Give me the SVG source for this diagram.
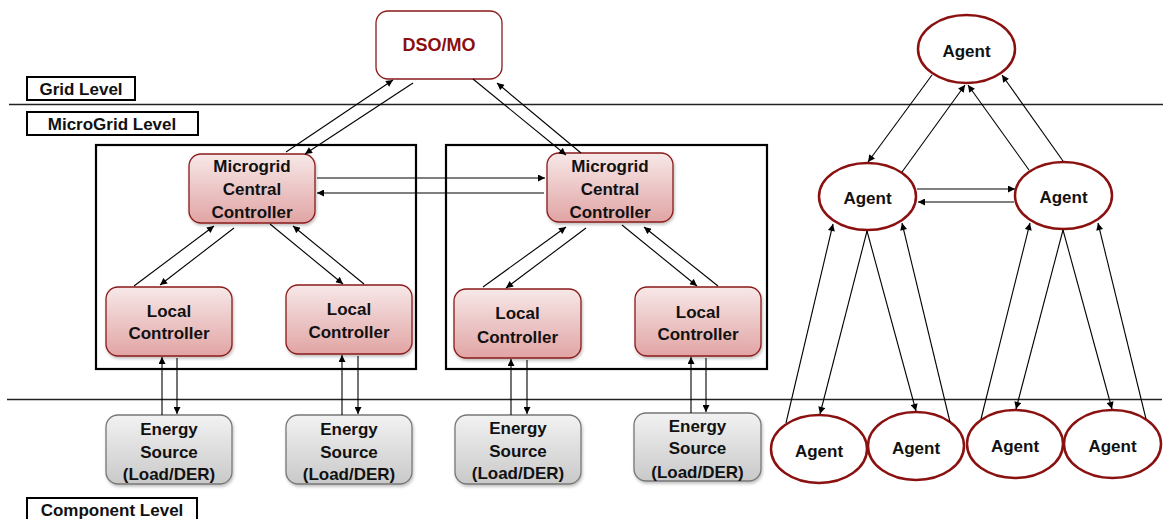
<svg xmlns="http://www.w3.org/2000/svg" width="1166" height="519" viewBox="0 0 1166 519">
<defs>
<linearGradient id="gRed" x1="0" y1="0" x2="0" y2="1"><stop offset="0" stop-color="#f7e8e8"/><stop offset="1" stop-color="#e1a4a4"/></linearGradient>
<linearGradient id="gGray" x1="0" y1="0" x2="0" y2="1"><stop offset="0" stop-color="#f2f2f2"/><stop offset="1" stop-color="#c9c9c9"/></linearGradient>
<filter id="sh" x="-10%" y="-10%" width="130%" height="130%"><feDropShadow dx="1" dy="2" stdDeviation="1.5" flood-color="#000" flood-opacity="0.25"/></filter>
<marker id="ah" viewBox="0 0 10 10" refX="10" refY="5" markerWidth="9" markerHeight="7" markerUnits="userSpaceOnUse" orient="auto"><path d="M0,0 L10,5 L0,10 z" fill="#000"/></marker>
<style>
text{font-family:"Liberation Sans",Arial,sans-serif;font-weight:bold;font-size:17px;text-anchor:middle;fill:#111}
.lbl{fill:#fff;stroke:#000;stroke-width:2}
.sep{stroke:#222;stroke-width:1.3}
.cont{fill:none;stroke:#000;stroke-width:2.2}
.rn{fill:url(#gRed);stroke:#8b1a1a;stroke-width:1.3;filter:url(#sh)}
.gn{fill:url(#gGray);stroke:#777;stroke-width:1.3;filter:url(#sh)}
.ag{fill:#fff;stroke:#8b1010;stroke-width:2.5}
.c line{stroke:#000;stroke-width:1.1;marker-end:url(#ah)}
</style>
</defs>
<rect width="1166" height="519" fill="#fff"/>
<line class="sep" x1="9" y1="104.5" x2="1163" y2="104.5"/>
<line class="sep" x1="7" y1="399.5" x2="1162" y2="399.5"/>
<g id="grid-level"><rect class="lbl" x="27" y="77" width="108" height="23"/><text x="81" y="95">Grid Level</text></g>
<g id="microgrid-level"><rect class="lbl" x="27" y="112" width="171" height="23"/><text x="112" y="130">MicroGrid Level</text></g>
<g id="component-level"><rect class="lbl" x="27" y="498" width="170" height="30"/><text x="112" y="516">Component Level</text></g>
<g id="mg1"><rect class="cont" x="96" y="145" width="320" height="224"/></g>
<g id="mg2"><rect class="cont" x="446" y="145" width="321" height="224"/></g>
<g id="dso"><rect x="376" y="11" width="126" height="68" rx="12" fill="#fff" stroke="#8b1a1a" stroke-width="1.3"/><text x="439" y="51" style="fill:#8b0f0f;font-size:18px">DSO/MO</text></g>
<g id="mcc1"><rect class="rn" x="189" y="154" width="126" height="69" rx="12"/><text x="252" y="172">Microgrid</text><text x="252" y="195">Central</text><text x="252" y="218">Controller</text></g>
<g id="mcc2"><rect class="rn" x="547" y="153" width="126" height="69" rx="12"/><text x="610" y="172">Microgrid</text><text x="610" y="195">Central</text><text x="610" y="218">Controller</text></g>
<g id="lc1"><rect class="rn" x="106" y="287" width="126" height="69" rx="12"/><text x="169" y="317">Local</text><text x="169" y="339">Controller</text></g>
<g id="lc2"><rect class="rn" x="286" y="285" width="126" height="69" rx="12"/><text x="349" y="315">Local</text><text x="349" y="338">Controller</text></g>
<g id="lc3"><rect class="rn" x="454" y="289" width="127" height="69" rx="12"/><text x="517.5" y="319">Local</text><text x="517.5" y="343">Controller</text></g>
<g id="lc4"><rect class="rn" x="635" y="287" width="126" height="69" rx="12"/><text x="698" y="318">Local</text><text x="698" y="340">Controller</text></g>
<g id="es1"><rect class="gn" x="106" y="415" width="126" height="69" rx="12"/><text x="169" y="435">Energy</text><text x="169" y="458">Source</text><text x="169" y="480">(Load/DER)</text></g>
<g id="es2"><rect class="gn" x="286" y="415" width="126" height="69" rx="12"/><text x="349" y="435">Energy</text><text x="349" y="458">Source</text><text x="349" y="480">(Load/DER)</text></g>
<g id="es3"><rect class="gn" x="455" y="415" width="126" height="69" rx="12"/><text x="518" y="434">Energy</text><text x="518" y="457">Source</text><text x="518" y="479">(Load/DER)</text></g>
<g id="es4"><rect class="gn" x="634" y="413" width="127" height="68" rx="12"/><text x="697.5" y="432">Energy</text><text x="697.5" y="454">Source</text><text x="697.5" y="478">(Load/DER)</text></g>
<g id="agent-top"><ellipse class="ag" cx="966.5" cy="49" rx="48.5" ry="34"/><text x="966.5" y="57">Agent</text></g>
<g id="agent-ml"><ellipse class="ag" cx="867.5" cy="196.5" rx="48.5" ry="33.5"/><text x="867.5" y="204">Agent</text></g>
<g id="agent-mr"><ellipse class="ag" cx="1063.5" cy="195.5" rx="48.5" ry="33.5"/><text x="1063.5" y="203">Agent</text></g>
<g id="agent-b1"><ellipse class="ag" cx="819" cy="449" rx="48" ry="34"/><text x="819" y="457">Agent</text></g>
<g id="agent-b2"><ellipse class="ag" cx="916" cy="446" rx="48" ry="34"/><text x="916" y="454">Agent</text></g>
<g id="agent-b3"><ellipse class="ag" cx="1015" cy="444" rx="48" ry="34"/><text x="1015" y="452">Agent</text></g>
<g id="agent-b4"><ellipse class="ag" cx="1112.5" cy="444" rx="48.5" ry="34"/><text x="1112.5" y="452">Agent</text></g>
<g id="connectors" class="c">
<line x1="286" y1="152" x2="393" y2="80"/>
<line x1="413" y1="83" x2="305" y2="154"/>
<line x1="473" y1="79" x2="566" y2="155"/>
<line x1="581" y1="153" x2="497" y2="83"/>
<line x1="317" y1="178" x2="545" y2="178"/>
<line x1="544" y1="193" x2="317" y2="193"/>
<line x1="134" y1="286" x2="214" y2="226"/>
<line x1="234" y1="228" x2="160" y2="285"/>
<line x1="270" y1="224" x2="343" y2="284"/>
<line x1="364" y1="284" x2="293" y2="226"/>
<line x1="483" y1="287" x2="566" y2="227"/>
<line x1="586" y1="228" x2="506" y2="288"/>
<line x1="622" y1="225" x2="697" y2="286"/>
<line x1="718" y1="286" x2="644" y2="227"/>
<line x1="162" y1="415" x2="162" y2="357"/>
<line x1="177" y1="358" x2="177" y2="414"/>
<line x1="342" y1="415" x2="342" y2="355"/>
<line x1="358" y1="356" x2="358" y2="414"/>
<line x1="511" y1="415" x2="511" y2="359"/>
<line x1="527" y1="360" x2="527" y2="414"/>
<line x1="691" y1="413" x2="691" y2="357"/>
<line x1="706" y1="358" x2="706" y2="412"/>
<line x1="932" y1="75" x2="868" y2="162"/>
<line x1="902" y1="172" x2="965" y2="85"/>
<line x1="1029" y1="170" x2="968" y2="85"/>
<line x1="1063" y1="161" x2="1002" y2="75"/>
<line x1="917" y1="189" x2="1015" y2="189"/>
<line x1="1014" y1="202" x2="918" y2="202"/>
<line x1="786" y1="423" x2="833" y2="224"/>
<line x1="867" y1="231" x2="820" y2="414"/>
<line x1="867" y1="231" x2="916" y2="411"/>
<line x1="950" y1="422" x2="902" y2="223"/>
<line x1="981" y1="419" x2="1030" y2="223"/>
<line x1="1063" y1="230" x2="1016" y2="409"/>
<line x1="1063" y1="230" x2="1112" y2="409"/>
<line x1="1146" y1="419" x2="1098" y2="223"/>
</g>
</svg>
